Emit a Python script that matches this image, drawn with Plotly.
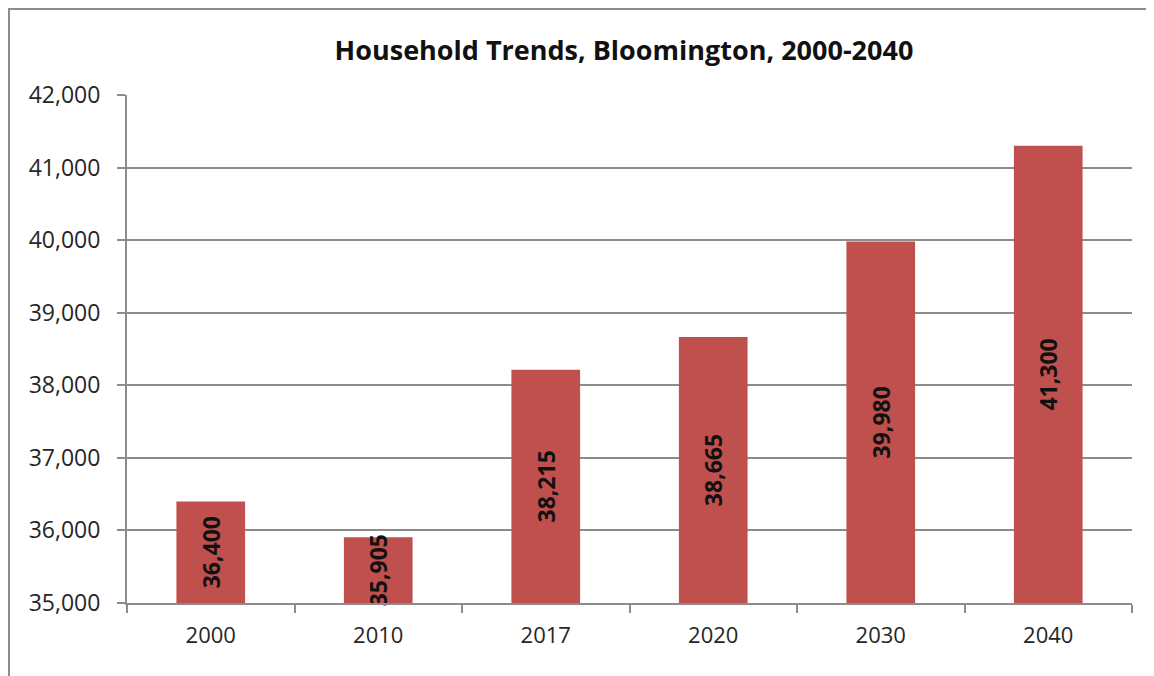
import plotly.graph_objects as go

years = ["2000", "2010", "2017", "2020", "2030", "2040"]
households = [36400, 35905, 38215, 38665, 39980, 41300]
labels = ["36,400", "35,905", "38,215", "38,665", "39,980", "41,300"]
y_ticks = [35000, 36000, 37000, 38000, 39000, 40000, 41000, 42000]
y_tick_text = ["35,000", "36,000", "37,000", "38,000", "39,000", "40,000", "41,000", "42,000"]
axis_base = 35000

# page has an 8px body margin; figure coordinates = page coordinates - 8
OFF = 8
W, H = 1146, 668
ml, mt = 127 - OFF, 95 - OFF
mr = W - (1132 - OFF)
mb = H - (603 - OFF)
pw, ph = W - ml - mr, H - mt - mb

FONT = "Open Sans, Lato, sans-serif"

fig = go.Figure()
fig.add_trace(go.Bar(
    x=years,
    y=[v - axis_base for v in households],
    base=axis_base,
    marker=dict(color="#C0504D", line=dict(width=0)),
    width=0.41,
    text=labels,
    textposition="inside",
    insidetextanchor="middle",
    textangle=-90,
    textfont=dict(family=FONT, size=23, color="#111111", weight="bold"),
    cliponaxis=False,
))

def px_x(p):
    return (p - ml) / pw

def px_y(p):
    return 1 - (p - mt) / ph

fig.update_layout(
    width=W, height=H,
    margin=dict(l=ml, r=mr, t=mt, b=mb, autoexpand=False),
    paper_bgcolor="white", plot_bgcolor="white",
    showlegend=False,
    uniformtext=dict(mode="show", minsize=23),
    title=dict(
        text="<b>Household Trends, Bloomington, 2000-2040</b>",
        x=px_x(624 - OFF), xref="paper", xanchor="center",
        y=1 - (51 - OFF) / H, yref="container", yanchor="middle",
        font=dict(family=FONT, size=27, color="#111111"),
    ),
    xaxis=dict(
        type="category",
        showgrid=False,
        showline=True, linecolor="#8c8c8c", linewidth=2,
        ticks="outside", tickson="boundaries", ticklen=8, tickcolor="#8c8c8c", tickwidth=2,
        tickfont=dict(family=FONT, size=22, color="#262626"),
        ticklabelstandoff=12,
        fixedrange=True,
    ),
    yaxis=dict(
        range=[35000, 42000],
        tickvals=y_ticks, ticktext=y_tick_text,
        showgrid=True, gridcolor="#8c8c8c", gridwidth=2,
        showline=True, linecolor="#8c8c8c", linewidth=2,
        ticks="outside", ticklen=8, tickcolor="#8c8c8c", tickwidth=2,
        tickfont=dict(family=FONT, size=23, color="#262626"),
        ticklabelstandoff=12,
        zeroline=False,
        fixedrange=True,
    ),
    bargap=0.59,
)

# chart border (top and left visible)
fig.add_shape(type="line", xref="paper", yref="paper",
              x0=px_x(0), x1=px_x(W + 5), y0=px_y(1), y1=px_y(1),
              line=dict(color="#8c8c8c", width=2), layer="above")
fig.add_shape(type="line", xref="paper", yref="paper",
              x0=px_x(1), x1=px_x(1), y0=px_y(0), y1=px_y(H + 5),
              line=dict(color="#8c8c8c", width=2), layer="above")

fig.write_html("out.html")
